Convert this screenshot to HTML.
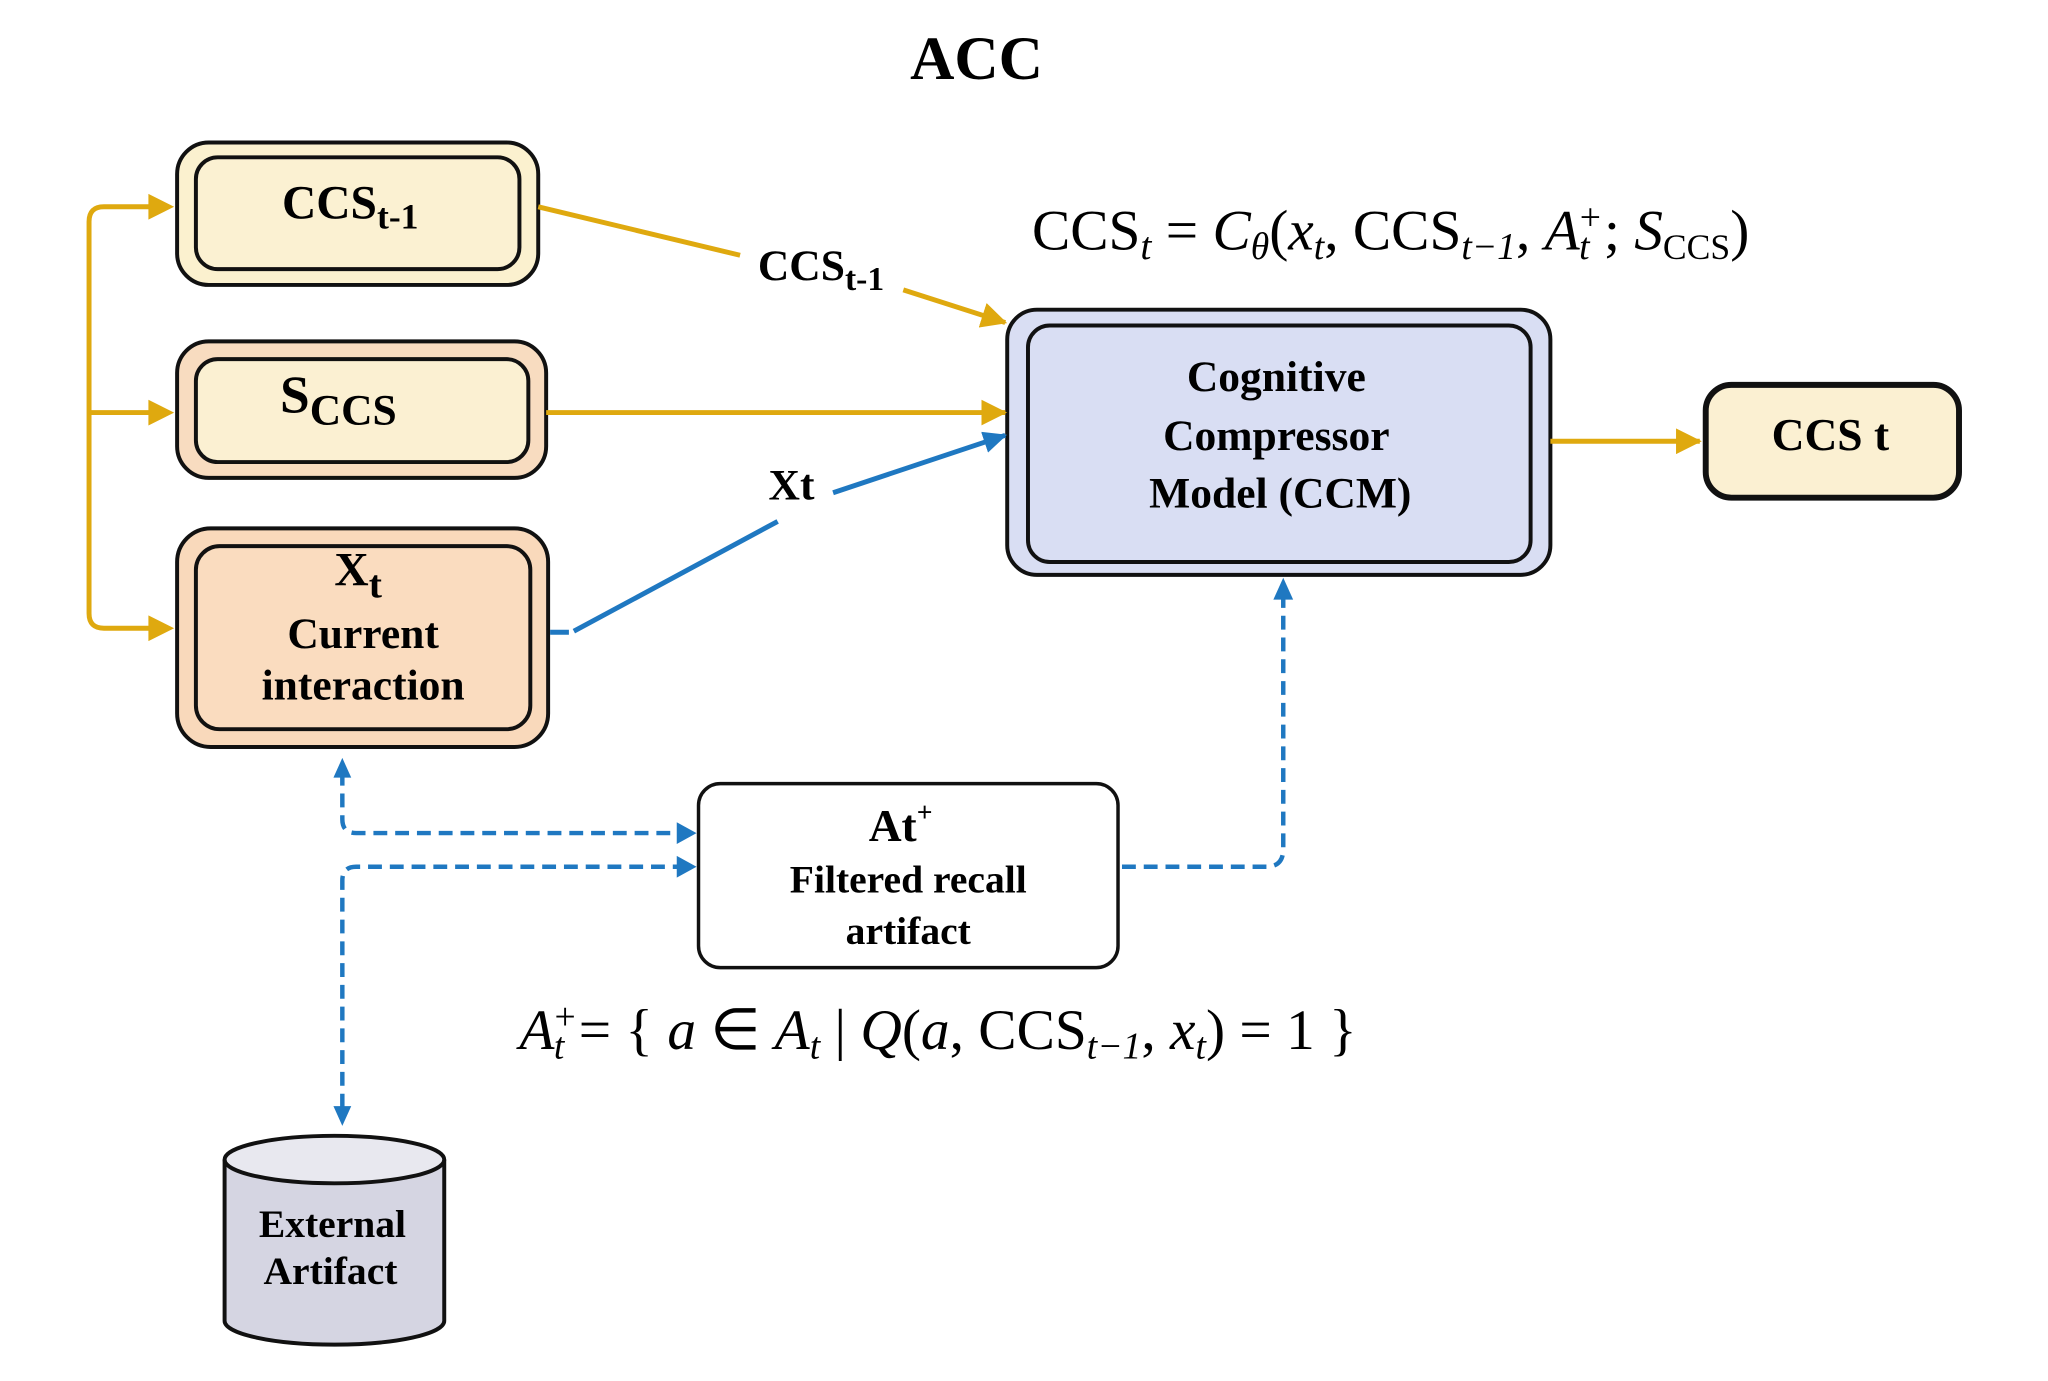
<!DOCTYPE html>
<html><head><meta charset="utf-8"><style>
html,body{margin:0;padding:0;background:#fff;}
svg{display:block;}
text{font-family:"Liberation Serif",serif;}
.b{font-weight:bold;}
</style></head><body>
<svg width="2048" height="1381" viewBox="0 0 2048 1381" xmlns="http://www.w3.org/2000/svg">
<defs>
<marker id="yA" markerWidth="26" markerHeight="26" refX="24" refY="13" orient="auto" markerUnits="userSpaceOnUse"><path d="M0,0 L26,13 L0,26 Z" fill="#dfa90f"/></marker>
<marker id="bA" markerWidth="24" markerHeight="22" refX="22" refY="11" orient="auto" markerUnits="userSpaceOnUse"><path d="M0,0 L24,11 L0,22 Z" fill="#1f78c1"/></marker>
</defs>
<g transform="scale(0.9894)">
<text x="987" y="80" font-size="62" text-anchor="middle" class="b">ACC</text>

<path d="M156,209 H105 Q90,209 90,224 V620 Q90,635 105,635 H156" fill="none" stroke="#dfa90f" stroke-width="5"/>
<line x1="90" y1="417" x2="156" y2="417" stroke="#dfa90f" stroke-width="5"/>
<path d="M150,196 L176,209 L150,222 Z" fill="#dfa90f"/>
<path d="M150,404 L176,417 L150,430 Z" fill="#dfa90f"/>
<path d="M150,622 L176,635 L150,648 Z" fill="#dfa90f"/>

<rect x="179" y="144" width="365" height="144" rx="32" fill="#fbf1cf" stroke="#111" stroke-width="4"/>
<rect x="198" y="159" width="327" height="113" rx="22" fill="#fbf1d2" stroke="#111" stroke-width="4"/>
<text x="285" y="221" font-size="48" class="b">CCS<tspan font-size="36" dy="10">t-1</tspan></text>

<rect x="179" y="345" width="373" height="138" rx="32" fill="#f8dcc0" stroke="#111" stroke-width="4"/>
<rect x="198" y="363" width="336" height="104" rx="22" fill="#fbf0d2" stroke="#111" stroke-width="4"/>
<text x="283" y="417" font-size="54" class="b">S<tspan font-size="44" dy="12">CCS</tspan></text>

<rect x="179" y="534" width="375" height="221" rx="34" fill="#f9d9bb" stroke="#111" stroke-width="4"/>
<rect x="198" y="552" width="338" height="185" rx="24" fill="#fadcbf" stroke="#111" stroke-width="4"/>
<text x="338" y="592" font-size="48" class="b">X<tspan font-size="40" dy="12">t</tspan></text>
<text x="367" y="655" font-size="44" class="b" text-anchor="middle">Current</text>
<text x="367" y="707" font-size="44" class="b" text-anchor="middle">interaction</text>

<rect x="1018" y="313" width="549" height="268" rx="30" fill="#d9def3" stroke="#111" stroke-width="4"/>
<rect x="1039" y="329" width="508" height="239" rx="22" fill="#d9def3" stroke="#111" stroke-width="4"/>
<text x="1290" y="395" font-size="44" class="b" text-anchor="middle">Cognitive</text>
<text x="1290" y="455" font-size="44" class="b" text-anchor="middle">Compressor</text>
<text x="1294" y="513" font-size="44" class="b" text-anchor="middle">Model (CCM)</text>

<rect x="1724" y="389" width="256" height="114" rx="26" fill="#fbf0d2" stroke="#111" stroke-width="6"/>
<text x="1850" y="455" font-size="46" class="b" text-anchor="middle">CCS t</text>
<line x1="1567" y1="446" x2="1718" y2="446" stroke="#dfa90f" stroke-width="5" marker-end="url(#yA)"/>

<line x1="544" y1="209" x2="748" y2="258" stroke="#dfa90f" stroke-width="5"/>
<line x1="913" y1="293" x2="1016" y2="326" stroke="#dfa90f" stroke-width="5" marker-end="url(#yA)"/>
<text x="766" y="283" font-size="44" class="b">CCS<tspan font-size="34" dy="10">t-1</tspan></text>
<line x1="552" y1="417" x2="1016" y2="417" stroke="#dfa90f" stroke-width="5" marker-end="url(#yA)"/>
<line x1="556" y1="639" x2="575" y2="639" stroke="#1f78c1" stroke-width="5"/>
<line x1="580" y1="638" x2="786" y2="527" stroke="#1f78c1" stroke-width="5"/>
<line x1="842" y1="498" x2="1016" y2="440" stroke="#1f78c1" stroke-width="5" marker-end="url(#bA)"/>
<text x="800" y="505" font-size="44" class="b" text-anchor="middle">Xt</text>

<text x="1043" y="252" font-size="58">CCS<tspan font-style="italic" font-size="40" dy="10">t</tspan><tspan dy="-10"> = </tspan><tspan font-style="italic">C</tspan><tspan font-style="italic" font-size="38" dy="10">θ</tspan><tspan dy="-10">(</tspan><tspan font-style="italic">x</tspan><tspan font-style="italic" font-size="38" dy="10">t</tspan><tspan dy="-10">, CCS</tspan><tspan font-style="italic" font-size="38" dy="10">t−1</tspan><tspan dy="-10">, </tspan><tspan font-style="italic">A</tspan><tspan font-size="38" dy="-20">+</tspan><tspan font-style="italic" font-size="38" dx="-22" dy="30">t</tspan><tspan dy="-10"> ; </tspan><tspan font-style="italic">S</tspan><tspan font-size="36" dy="10">CCS</tspan><tspan dy="-10">)</tspan></text>

<rect x="706" y="792" width="424" height="186" rx="22" fill="#fff" stroke="#111" stroke-width="3.5"/>
<text x="878" y="850" font-size="46" class="b">At<tspan font-size="28" dy="-20">+</tspan></text>
<text x="918" y="902" font-size="40" class="b" text-anchor="middle">Filtered recall</text>
<text x="918" y="954" font-size="40" class="b" text-anchor="middle">artifact</text>

<g fill="none" stroke="#1f78c1" stroke-width="4.5" stroke-dasharray="14,8">
<path d="M346,780 V828 Q346,842 360,842 H694"/>
<path d="M694,876 H360 Q346,876 346,890 V1125"/>
<path d="M1134,876 H1280 Q1297,876 1297,858 V600"/>
</g>
<path d="M337,786 L346,766 L355,786 Z" fill="#1f78c1"/>
<path d="M337,1118 L346,1138 L355,1118 Z" fill="#1f78c1"/>
<path d="M684,831 L704,842 L684,853 Z" fill="#1f78c1"/>
<path d="M684,865 L704,876 L684,887 Z" fill="#1f78c1"/>
<path d="M1287,606 L1297,584 L1307,606 Z" fill="#1f78c1"/>

<text x="525" y="1060" font-size="58"><tspan font-style="italic">A</tspan><tspan font-size="38" dy="-20">+</tspan><tspan font-style="italic" font-size="38" dx="-22" dy="30">t</tspan><tspan dy="-10"> = { </tspan><tspan font-style="italic">a</tspan> ∈ <tspan font-style="italic">A</tspan><tspan font-style="italic" font-size="38" dy="10">t</tspan><tspan dy="-10"> | </tspan><tspan font-style="italic">Q</tspan>(<tspan font-style="italic">a</tspan>, CCS<tspan font-style="italic" font-size="38" dy="10">t−1</tspan><tspan dy="-10">, </tspan><tspan font-style="italic">x</tspan><tspan font-style="italic" font-size="38" dy="10">t</tspan><tspan dy="-10">) = 1 }</tspan></text>

<path d="M227,1172 V1335 A111,24 0 0 0 449,1335 V1172" fill="#d5d5e2" stroke="#111" stroke-width="4"/>
<ellipse cx="338" cy="1172" rx="111" ry="24" fill="#e8e8ef" stroke="#111" stroke-width="4"/>
<text x="336" y="1250" font-size="40" class="b" text-anchor="middle">External</text>
<text x="334" y="1298" font-size="40" class="b" text-anchor="middle">Artifact</text>
</g>
</svg>
</body></html>
